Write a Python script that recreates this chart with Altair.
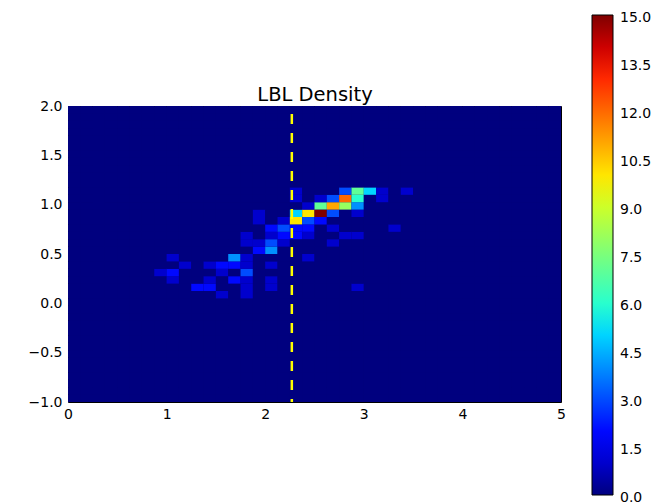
import altair as alt
import numpy as np
import pandas as pd

# 40 x 40 histogram bins
x_edges = np.linspace(0, 5, 41)
y_edges = np.linspace(-1, 2, 41)

# non-zero cells: x-bin index, y-bin index, value
cell_ix = [18, 22, 23, 24, 25, 27,
           18, 20, 21, 22, 23, 25,
           19, 20, 21, 22, 23,
           15, 18, 19, 20, 21, 23,
           15, 17, 18, 19, 20,
           16, 17, 18, 19, 21, 26,
           14, 16, 17, 18, 19, 22, 23,
           14, 15, 16, 17, 21,
           15, 16,
           8, 13, 14, 19,
           9, 11, 12, 13, 14, 16,
           7, 8, 12, 14,
           8, 11, 13, 14, 16,
           10, 11, 14, 16, 23,
           12, 14]
cell_iy = [28, 28, 28, 28, 28, 28,
           27, 27, 27, 27, 27, 27,
           26, 26, 26, 26, 26,
           25, 25, 25, 25, 25, 25,
           24, 24, 24, 24, 24,
           23, 23, 23, 23, 23, 23,
           22, 22, 22, 22, 22, 22, 22,
           21, 21, 21, 21, 21,
           20, 20,
           19, 19, 19, 19,
           18, 18, 18, 18, 18, 18,
           17, 17, 17, 17,
           16, 16, 16, 16, 16,
           15, 15, 15, 15, 15,
           14, 14]
cell_val = [1, 3, 7, 5, 1, 1,
            1, 1, 3, 12, 6, 1,
            1, 7, 11, 8, 4,
            1, 5, 10, 15, 3, 1,
            1, 1, 10, 3, 2,
            2, 3, 2, 2, 1, 1,
            1, 1, 2, 2, 1, 1, 1,
            1, 1, 3, 1, 1,
            2, 4,
            1, 4, 1, 1,
            1, 1, 2, 2, 1, 1,
            1, 2, 1, 3,
            1, 1, 2, 1, 1,
            2, 2, 1, 1, 1,
            1, 1]

title_text = "LBL Density"
cut_x = [2.27]
x_ticks = [0, 1, 2, 3, 4, 5]
y_ticks = [-1.0, -0.5, 0.0, 0.5, 1.0, 1.5, 2.0]
cbar_ticks = [0, 1.5, 3, 4.5, 6, 7.5, 9, 10.5, 12, 13.5, 15]

# matplotlib "jet" colour stops
jet_pos = [0, 0.11, 0.125, 0.34, 0.35, 0.375, 0.64, 0.65, 0.66, 0.89, 0.91, 1]
jet_hex = ["#00007f", "#0000ff", "#0000ff", "#00dbff", "#00e5f7", "#14ffe2",
           "#eeff08", "#f7f500", "#ffec00", "#ff1300", "#e80000", "#7f0000"]
vmax = 15

counts = np.zeros((40, 40))
for i, j, v in zip(cell_ix, cell_iy, cell_val):
    counts[i, j] = v

rows = []
for i in range(40):
    for j in range(40):
        rows.append({"x": x_edges[i], "x2": x_edges[i + 1],
                     "y": y_edges[j], "y2": y_edges[j + 1],
                     "c": counts[i, j]})
df = pd.DataFrame(rows)

font = "DejaVu Sans"
xscale = alt.Scale(domain=[0, 5], nice=False, zero=False)

heat = alt.Chart(df).mark_rect().encode(
    x=alt.X("x:Q", scale=xscale,
            axis=alt.Axis(values=x_ticks, format="d", title=None, grid=False,
                          ticks=False, domain=False, labelPadding=5,
                          labelFlush=False,
                          labelFontSize=14, labelFont=font, labelColor="black")),
    x2="x2:Q",
    y=alt.Y("y:Q", scale=alt.Scale(domain=[-1, 2], nice=False, zero=False),
            axis=alt.Axis(values=y_ticks, format=".1f", title=None, grid=False,
                          ticks=False, domain=False, labelPadding=6,
                          labelFlush=False,
                          labelFontSize=14, labelFont=font, labelColor="black")),
    y2="y2:Q",
    color=alt.Color("c:Q",
                    scale=alt.Scale(domain=[p * vmax for p in jet_pos],
                                    range=jet_hex, interpolate="rgb"),
                    legend=alt.Legend(orient="none", legendX=524, legendY=-91,
                                      direction="vertical", title=None,
                                      gradientLength=480, gradientThickness=21,
                                      gradientStrokeColor="black",
                                      gradientStrokeWidth=1,
                                      values=cbar_ticks, format=".1f",
                                      labelFontSize=14, labelFont=font,
                                      labelColor="black", labelOffset=7,
                                      labelBaseline="middle",
                                      labelOverlap=False, padding=0)),
)

# dashed cut line; its top axis carries the chart title
cut = alt.Chart(pd.DataFrame({"x": cut_x})).mark_rule(
    color="#ffff00", strokeWidth=2.5, strokeDash=[10, 9], strokeDashOffset=11
).encode(
    x=alt.X("x:Q", scale=xscale,
            axis=alt.Axis(orient="top", title=title_text, labels=False,
                          ticks=False, domain=False, grid=False,
                          titleFontSize=19.5, titleFont=font,
                          titleFontWeight="normal", titleColor="black",
                          titlePadding=6, titleBaseline="alphabetic"))
)

chart = alt.layer(heat, cut).resolve_axis(x="independent").properties(
    width=493, height=296,
    autosize=alt.AutoSizeParams(type="none"),
    padding={"left": 60, "top": 98, "right": 100, "bottom": 100},
).configure_view(stroke="black", strokeWidth=1, fill="#00007f")

# centre the end labels of the colour bar on its ends, as the others are
label_patch = [{"op": "add", "path": "/legends/0/encode",
                "value": {"labels": {"update": {"baseline": {"value": "middle"},
                                                "dy": {"value": 2.5}}}}}]

chart.save("out.html", embed_options={"renderer": "svg", "actions": False,
                                      "patch": label_patch})
